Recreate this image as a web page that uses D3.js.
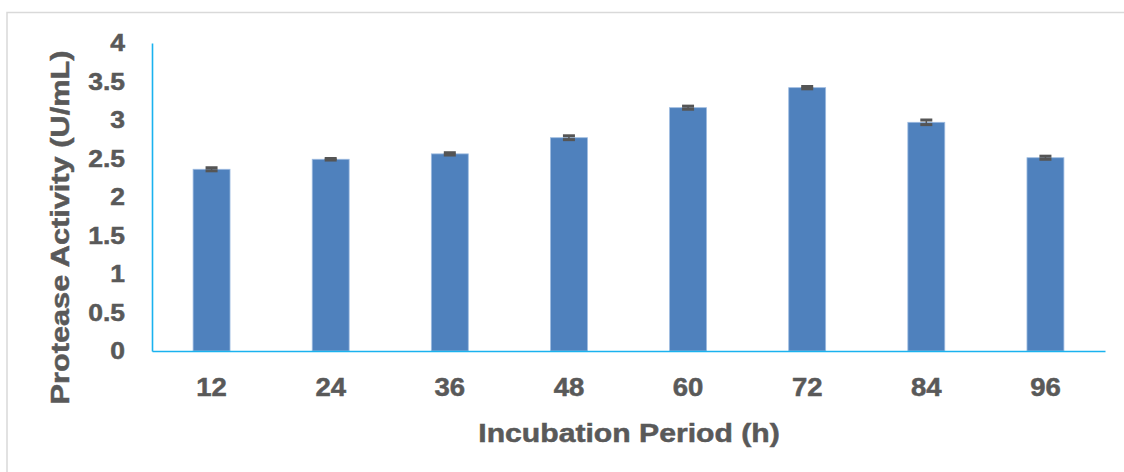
<!DOCTYPE html>
<html>
<head>
<meta charset="utf-8">
<script src="https://cdn.jsdelivr.net/npm/d3@7"></script>
<style>
  html, body { margin: 0; padding: 0; background: #fff; }
  svg { display: block; }
  text { font-family: "Liberation Sans", Arial, sans-serif; font-weight: bold; fill: #595959; stroke: #595959; stroke-width: 0.5px; }
</style>
</head>
<body>
<svg id="chart" width="1124" height="472"></svg>
<script>
// Incubation period (h) vs protease activity (U/mL)
const categories = ["12", "24", "36", "48", "60", "72", "84", "96"];
const activity   = [2.36, 2.49, 2.56, 2.77, 3.16, 3.42, 2.97, 2.51];
const errors     = [0.02, 0.01, 0.015, 0.025, 0.02, 0.015, 0.03, 0.02];
const yTicks     = [0, 0.5, 1, 1.5, 2, 2.5, 3, 3.5, 4];

const W = 1124, H = 472;
const margin = { top: 43, right: 19, bottom: 121, left: 152 };
const svg = d3.select("#chart");

// chart frame
svg.append("rect")
  .attr("x", 7).attr("y", 12.5)
  .attr("width", W).attr("height", H)
  .attr("fill", "none").attr("stroke", "#d9d9d9").attr("stroke-width", 1.5);

const x = d3.scaleBand()
  .domain(categories)
  .range([margin.left, W - margin.right])
  .paddingInner(0.69)
  .paddingOuter(0.345);

const y = d3.scaleLinear()
  .domain([0, 4])
  .range([H - margin.bottom, margin.top]);

const data = categories.map((c, i) => ({ c, v: activity[i], e: errors[i] }));

// bars
svg.append("g").selectAll("rect")
  .data(data).join("rect")
  .attr("x", d => x(d.c))
  .attr("y", d => y(d.v))
  .attr("width", x.bandwidth())
  .attr("height", d => y(0) - y(d.v))
  .attr("fill", "#4f81bd")
  .attr("stroke", "#9dbbe0").attr("stroke-width", 0.8);

// error bars
const eb = svg.append("g").attr("stroke", "#555555").attr("stroke-width", 3);
data.forEach(d => {
  const cx = x(d.c) + x.bandwidth() / 2;
  eb.append("line").attr("x1", cx).attr("x2", cx)
    .attr("y1", y(d.v + d.e)).attr("y2", y(d.v - d.e)).attr("stroke-width", 1.5);
  [d.v + d.e, d.v - d.e].forEach(t => {
    eb.append("line").attr("x1", cx - 6).attr("x2", cx + 6)
      .attr("y1", y(t)).attr("y2", y(t));
  });
});

// y axis
const yAxis = svg.append("g")
  .attr("transform", `translate(${margin.left},0)`)
  .call(d3.axisLeft(y).tickValues(yTicks).tickSize(0).tickPadding(0).tickFormat(d3.format("~g")));
yAxis.select(".domain").attr("stroke", "#1ab2ef").attr("stroke-width", 1.6);
yAxis.selectAll(".tick text")
  .attr("x", 0).attr("dy", null).attr("y", 0)
  .attr("text-anchor", "end")
  .attr("dominant-baseline", "central")
  .style("font-size", "23px")
  .attr("transform", "translate(-27,0) scale(1.15,1)");

// x axis
const xAxis = svg.append("g")
  .attr("transform", `translate(0,${H - margin.bottom})`)
  .call(d3.axisBottom(x).tickSize(0).tickPadding(0));
xAxis.select(".domain").attr("stroke", "#1ab2ef").attr("stroke-width", 1.6);
xAxis.selectAll(".tick text")
  .attr("y", 0).attr("dy", null)
  .attr("text-anchor", "middle")
  .style("font-size", "25px")
  .attr("transform", "translate(0,45) scale(1.1,1)");

// axis titles
svg.append("text")
  .attr("text-anchor", "middle")
  .style("font-size", "26px")
  .attr("transform", "translate(629,441.5) scale(1.16,1)")
  .text("Incubation Period (h)");

svg.append("text")
  .attr("text-anchor", "middle")
  .style("font-size", "26.5px")
  .attr("transform", "translate(68.5,227.5) rotate(-90) scale(1.16,1)")
  .text("Protease Activity (U/mL)");
</script>
</body>
</html>
